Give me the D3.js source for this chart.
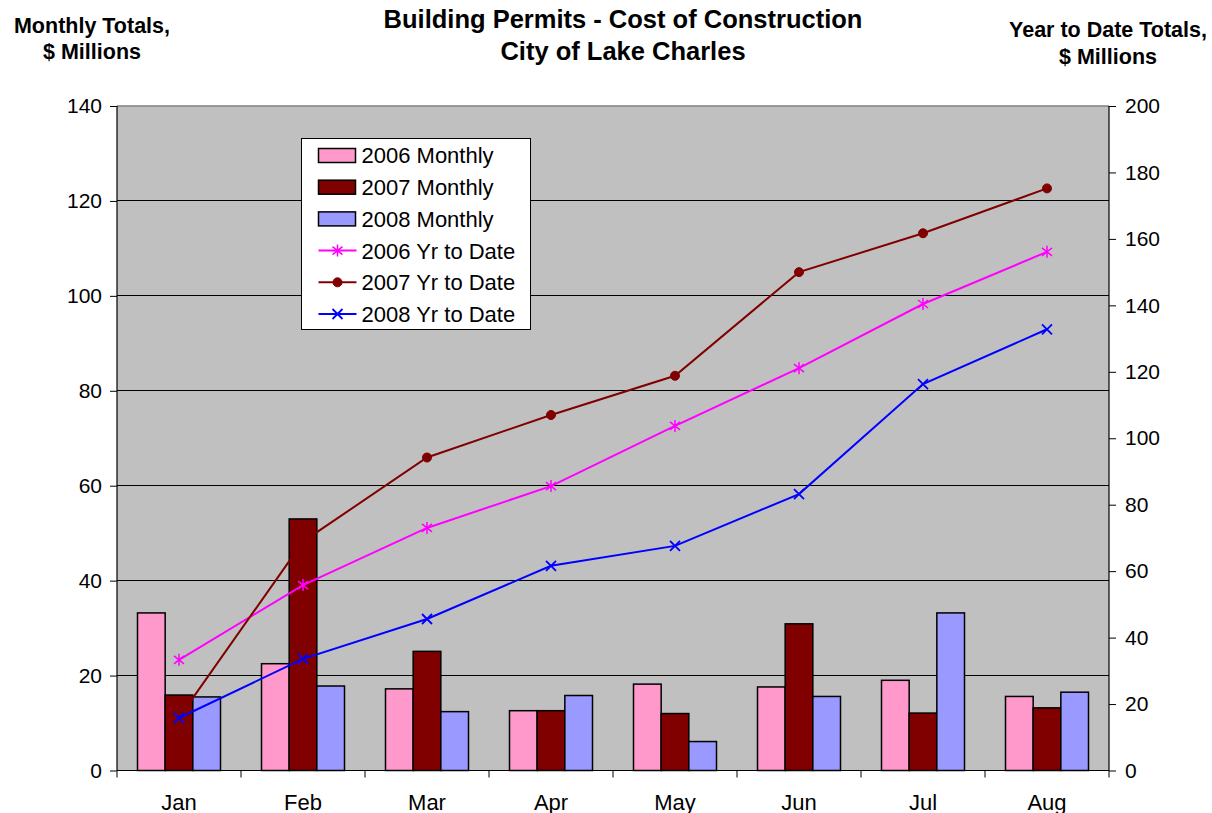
<!DOCTYPE html>
<html>
<head>
<meta charset="utf-8">
<script src="https://cdn.jsdelivr.net/npm/d3@7"></script>
<style>
  body { margin: 0; background: #fff; }
  text { font-family: "Liberation Sans", Arial, sans-serif; fill: #000; }
</style>
</head>
<body>
<script>
// chart data
const months = ["Jan","Feb","Mar","Apr","May","Jun","Jul","Aug"];
const monthly2006 = [33.2, 22.5, 17.2, 12.6, 18.2, 17.6, 19.0, 15.6];
const monthly2007 = [15.9, 53.0, 25.1, 12.6, 12.0, 30.9, 12.1, 13.2];
const monthly2008 = [15.5, 17.8, 12.4, 15.8, 6.1, 15.6, 33.2, 16.5];
const ytd2006 = [33.3, 55.8, 73.0, 85.6, 103.7, 121.1, 140.4, 156.1];
const ytd2007 = [15.9, 68.9, 94.2, 107.0, 118.8, 150.0, 161.7, 175.2];
const ytd2008 = [15.8, 33.6, 45.6, 61.6, 67.6, 83.2, 116.3, 132.8];
const leftTicks = [0, 20, 40, 60, 80, 100, 120, 140];
const rightTicks = [0, 20, 40, 60, 80, 100, 120, 140, 160, 180, 200];

const barSeries = [
  {name: "2006 Monthly", values: monthly2006, color: "#FF99CC"},
  {name: "2007 Monthly", values: monthly2007, color: "#800000"},
  {name: "2008 Monthly", values: monthly2008, color: "#9999FF"}
];
const lineSeries = [
  {name: "2006 Yr to Date", values: ytd2006, color: "#FF00FF", marker: "star"},
  {name: "2007 Yr to Date", values: ytd2007, color: "#800000", marker: "circle"},
  {name: "2008 Yr to Date", values: ytd2008, color: "#0000FF", marker: "x"}
];

const W = 1212, H = 813;
const plot = {left: 117, right: 1109, top: 106, bottom: 770.5};

const svg = d3.select("body").append("svg")
  .attr("width", W).attr("height", H);

const x = d3.scaleBand().domain(months).range([plot.left, plot.right]);
const xs = d3.scaleBand().domain(barSeries.map(d => d.name))
  .range([20.5, 103.5]);
const yL = d3.scaleLinear().domain([0, 140]).range([plot.bottom, plot.top]);
const yR = d3.scaleLinear().domain([0, 200]).range([plot.bottom, plot.top]);

// plot background
svg.append("rect")
  .attr("x", plot.left).attr("y", plot.top)
  .attr("width", plot.right - plot.left).attr("height", plot.bottom - plot.top)
  .attr("fill", "#C0C0C0");

// gridlines
svg.append("g")
  .selectAll("line")
  .data(leftTicks.filter(d => d > 0 && d < 140))
  .join("line")
    .attr("x1", plot.left).attr("x2", plot.right)
    .attr("y1", d => yL(d)).attr("y2", d => yL(d))
    .attr("stroke", "#000").attr("stroke-width", 1)
    .attr("shape-rendering", "crispEdges");

// top border of plot area
svg.append("line")
  .attr("x1", plot.left).attr("x2", plot.right)
  .attr("y1", plot.top).attr("y2", plot.top)
  .attr("stroke", "#808080").attr("stroke-width", 1.5);

// bars
const groups = svg.append("g").selectAll("g")
  .data(barSeries)
  .join("g");
groups.selectAll("rect")
  .data(s => s.values.map((v, i) => ({s, v, m: months[i]})))
  .join("rect")
    .attr("x", d => x(d.m) + xs(d.s.name))
    .attr("y", d => yL(d.v))
    .attr("width", xs.bandwidth())
    .attr("height", d => yL(0) - yL(d.v))
    .attr("fill", d => d.s.color)
    .attr("stroke", "#000")
    .attr("stroke-width", 1.5);

// axes
const axisL = svg.append("g")
  .attr("transform", `translate(${plot.left},0)`)
  .call(d3.axisLeft(yL).tickValues(leftTicks).tickSize(7).tickPadding(8));
const axisR = svg.append("g")
  .attr("transform", `translate(${plot.right},0)`)
  .call(d3.axisRight(yR).tickValues(rightTicks).tickSize(7).tickPadding(9));
const axisB = svg.append("g")
  .attr("transform", `translate(0,${plot.bottom})`)
  .call(d3.axisBottom(x).tickSize(0).tickPadding(24));

[axisL, axisR, axisB].forEach(a => {
  a.selectAll("text")
    .style("font-family", "'Liberation Sans', Arial, sans-serif")
    .style("font-size", "21px").attr("fill", "#000");
  a.selectAll("line").attr("stroke", "#000");
  a.select(".domain").attr("stroke", "#000").attr("stroke-width", 1.2);
});
axisB.selectAll("text").style("font-size", "22px");
axisL.select(".domain").attr("d", `M0,${plot.top}V${plot.bottom}`);
axisR.select(".domain").attr("d", `M0,${plot.top}V${plot.bottom}`);
axisB.select(".domain").attr("d", `M${plot.left},0H${plot.right}`);

// category divider ticks on x axis
axisB.selectAll(".divtick")
  .data(d3.range(months.length + 1))
  .join("line")
    .attr("x1", i => plot.left + i * x.step())
    .attr("x2", i => plot.left + i * x.step())
    .attr("y1", 0).attr("y2", 7)
    .attr("stroke", "#000");

// marker drawing
function drawMarker(g, type, color) {
  if (type === "circle") {
    g.append("circle").attr("r", 4.5).attr("fill", color).attr("stroke", color);
  } else if (type === "x") {
    g.append("path").attr("d", "M-5,-5L5,5M-5,5L5,-5")
      .attr("stroke", color).attr("stroke-width", 1.8).attr("fill", "none");
  } else {
    g.append("path").attr("d", "M0,-6V6M-5,-4L5,4M-5,4L5,-4")
      .attr("stroke", color).attr("stroke-width", 1.5).attr("fill", "none");
  }
}

// lines
const line = d3.line()
  .x((d, i) => x(months[i]) + x.bandwidth() / 2)
  .y(d => yR(d));

lineSeries.forEach(s => {
  svg.append("path")
    .datum(s.values)
    .attr("d", line)
    .attr("fill", "none")
    .attr("stroke", s.color)
    .attr("stroke-width", 2);
  s.values.forEach((v, i) => {
    const g = svg.append("g")
      .attr("transform", `translate(${x(months[i]) + x.bandwidth() / 2},${yR(v)})`);
    drawMarker(g, s.marker, s.color);
  });
});

// legend
const legend = svg.append("g").attr("transform", "translate(301.5,138.5)");
legend.append("rect")
  .attr("width", 229).attr("height", 191)
  .attr("fill", "#fff").attr("stroke", "#000").attr("stroke-width", 1);
const rowY = i => 17 + i * 31.7;
barSeries.forEach((s, i) => {
  legend.append("rect")
    .attr("x", 17).attr("y", rowY(i) - 7)
    .attr("width", 37).attr("height", 14)
    .attr("fill", s.color).attr("stroke", "#000").attr("stroke-width", 1.5);
  legend.append("text")
    .attr("x", 60).attr("y", rowY(i)).attr("dy", "0.36em")
    .style("font-size", "22px").text(s.name);
});
lineSeries.forEach((s, j) => {
  const i = j + 3;
  legend.append("line")
    .attr("x1", 17).attr("x2", 55)
    .attr("y1", rowY(i)).attr("y2", rowY(i))
    .attr("stroke", s.color).attr("stroke-width", 2);
  const g = legend.append("g").attr("transform", `translate(36,${rowY(i)})`);
  drawMarker(g, s.marker, s.color);
  legend.append("text")
    .attr("x", 60).attr("y", rowY(i)).attr("dy", "0.36em")
    .style("font-size", "22px").text(s.name);
});

// titles
const title = svg.append("text")
  .attr("x", 623).attr("y", 28)
  .attr("text-anchor", "middle")
  .style("font-size", "25.5px").style("font-weight", "bold");
title.append("tspan").attr("x", 623).text("Building Permits - Cost of Construction");
title.append("tspan").attr("x", 623).attr("dy", 32).text("City of Lake Charles");

const leftTitle = svg.append("text")
  .attr("text-anchor", "middle")
  .style("font-size", "21.5px").style("font-weight", "bold");
leftTitle.append("tspan").attr("x", 92).attr("y", 33).text("Monthly Totals,");
leftTitle.append("tspan").attr("x", 92).attr("y", 59).text("$ Millions");

const rightTitle = svg.append("text")
  .attr("text-anchor", "middle")
  .style("font-size", "21.5px").style("font-weight", "bold");
rightTitle.append("tspan").attr("x", 1108).attr("y", 37).text("Year to Date Totals,");
rightTitle.append("tspan").attr("x", 1108).attr("y", 64).text("$ Millions");
</script>
</body>
</html>
